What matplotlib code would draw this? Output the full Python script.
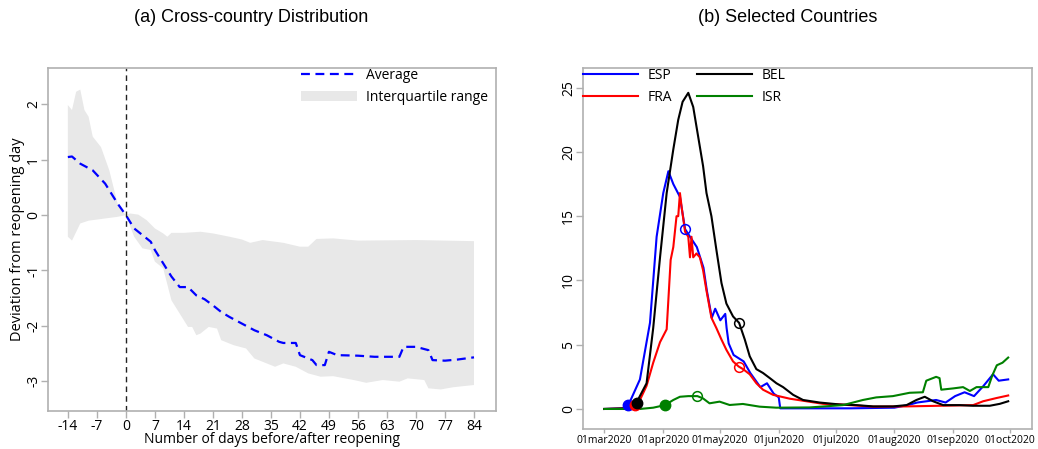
import numpy as np
import matplotlib
matplotlib.use("Agg")
import matplotlib.pyplot as plt
from matplotlib.patches import Patch
from matplotlib.lines import Line2D

# ---- panel (a): cross-country distribution ----
avg_days = [-14, -13, -11, -8, -5, -3, -2, 0, 2, 4, 6, 7, 9, 11, 13, 15, 17, 19, 21, 23, 25,
            28, 31, 34, 37, 38, 41, 42, 45, 46, 48, 49, 51, 56, 60, 66, 67, 70, 73, 74, 77, 80, 84]
avg_vals = [1.05, 1.06, 0.93, 0.81, 0.57, 0.33, 0.21, 0.0, -0.24, -0.36, -0.48, -0.63, -0.87,
            -1.11, -1.30, -1.30, -1.45, -1.52, -1.63, -1.75, -1.84, -1.96, -2.08, -2.17, -2.29,
            -2.31, -2.31, -2.53, -2.62, -2.71, -2.71, -2.47, -2.53, -2.54, -2.56, -2.56, -2.38,
            -2.38, -2.44, -2.62, -2.63, -2.61, -2.57]

iqr_hi_days = [-14, -13, -12, -11, -10, -9, -8, -6, -4, -3, -2, -1, 0, 1, 3, 5, 7, 9, 10, 11,
               14, 18, 21, 25, 28, 30, 33, 38, 42, 44, 46, 50, 56, 70, 84]
iqr_hi_vals = [1.99, 1.90, 2.23, 2.27, 1.90, 1.78, 1.42, 1.23, 0.81, 0.51, 0.21, 0.09, 0.0,
               0.03, 0.01, -0.09, -0.24, -0.33, -0.39, -0.32, -0.32, -0.30, -0.33, -0.39,
               -0.44, -0.50, -0.45, -0.50, -0.57, -0.57, -0.43, -0.42, -0.46, -0.45, -0.47]

iqr_lo_days = [-14, -13, -11, -9, -5, -2, 0, 2, 4, 6, 7, 9, 11, 13, 15, 16, 17, 18, 20, 22, 23,
               26, 29, 31, 34, 36, 38, 41, 44, 47, 50, 55, 58, 62, 66, 68, 72, 73, 76, 79, 84]
iqr_lo_vals = [-0.39, -0.46, -0.15, -0.10, -0.06, -0.03, 0.0, -0.39, -0.60, -0.63, -0.84, -0.96,
               -1.54, -1.78, -2.02, -2.02, -2.17, -2.14, -2.02, -2.05, -2.26, -2.35, -2.41,
               -2.59, -2.68, -2.74, -2.68, -2.74, -2.86, -2.92, -2.91, -2.98, -3.03, -2.98,
               -3.01, -2.95, -2.98, -3.13, -3.15, -3.11, -3.07]

day_ticks = list(range(-14, 85, 7))

# ---- panel (b): selected countries (days since 01mar2020) ----
esp_t = [0, 10, 12.7, 18.8, 24.1, 27.6, 31.1, 33.8, 36.4, 39.9, 42.6, 45.2, 48.8, 52.3, 54.1,
         56.7, 58.5, 61.2, 63.8, 64.5, 65.6, 68.2, 73.5, 77, 82.3, 85.8, 89.3, 92, 92.8, 110,
         130, 153, 160, 165, 175, 180, 185, 190, 195, 200, 205, 208, 213]
esp_v = [0, 0.05, 0.3, 2.3, 6.7, 13.4, 16.8, 18.5, 17.5, 16.5, 14.0, 13.4, 12.6, 11.0, 9.2,
         7.1, 7.8, 6.9, 7.4, 6.3, 5.1, 4.2, 3.7, 2.8, 1.7, 2.0, 1.2, 0.9, 0.05, 0.05,
         0.05, 0.1, 0.3, 0.5, 0.7, 0.5, 1.0, 1.3, 1.0, 1.8, 2.7, 2.2, 2.3]

bel_t = [0, 14, 17, 22.3, 25.8, 29.4, 32.9, 36.4, 39, 41.3, 44.3, 46.9, 49.5, 52.1, 53.9, 56.5,
         59.1, 61.8, 64.4, 67.9, 71.1, 74.1, 76.7, 80.2, 83.7, 87.3, 90.8, 94.3, 99.6, 104.8,
         113.6, 124.2, 133, 141.8, 152.3, 159.4, 164.6, 169, 173.4, 178.7, 187.5, 194.5,
         203.3, 208.6, 213]
bel_v = [0, 0.05, 0.5, 2.0, 6.3, 11.8, 16.8, 20.2, 22.5, 23.9, 24.6, 23.5, 21.2, 18.9, 16.8,
         15.0, 12.4, 9.8, 8.2, 7.2, 6.7, 5.4, 4.1, 3.1, 2.8, 2.4, 2.0, 1.7, 1.1, 0.7,
         0.5, 0.35, 0.3, 0.2, 0.2, 0.3, 0.7, 0.95, 0.6, 0.3, 0.3, 0.25, 0.25, 0.4, 0.6]

fra_t = [0, 14, 16.1, 18.8, 22.3, 25.8, 29.4, 32.9, 33.8, 35, 36.4, 38.1, 39, 39.9, 40.8, 42.6,
         44.3, 45.2, 46, 46.9, 48.6, 50.4, 52.1, 53.9, 56.5, 59.1, 61.8, 64.4, 67.9, 70.9,
         73.2, 76.7, 80.2, 83.7, 89, 97.8, 106.6, 115.4, 124.2, 141.8, 159.4, 177, 194.5,
         199.8, 206.8, 213]
fra_v = [0, 0.05, 0.3, 0.7, 1.8, 3.6, 5.2, 6.2, 8.5, 11.6, 12.6, 15.0, 15.0, 16.8, 15.7, 13.8,
         13.4, 11.8, 13.4, 11.8, 12.1, 11.8, 10.8, 9.2, 7.1, 6.3, 5.4, 4.6, 3.7, 3.3,
         3.1, 2.7, 2.0, 1.5, 1.1, 0.8, 0.6, 0.4, 0.35, 0.18, 0.2, 0.25, 0.3,
         0.6, 0.85, 1.05]

isr_t = [0, 18.8, 25.8, 32, 36.4, 39.9, 44.3, 49.1, 52, 55.5, 60.8, 66.1, 73.1, 81.9, 90.7,
         108.3, 125.9, 136.4, 143.4, 152.2, 161, 168, 169.8, 175, 176.8, 177.7, 184, 189.2,
         192.8, 196.3, 202.5, 204.6, 207, 210, 213]
isr_v = [0, 0.0, 0.1, 0.3, 0.7, 0.95, 1.0, 1.0, 0.83, 0.44, 0.57, 0.31, 0.39, 0.18, 0.1,
         0.12, 0.3, 0.7, 0.9, 1.0, 1.26, 1.3, 2.2, 2.5, 2.4, 1.5, 1.6, 1.7,
         1.4, 1.7, 1.7, 2.6, 3.4, 3.6, 4.0]

# markers: (day, value) for filled start point and hollow reopening point
esp_marks = [(12.7, 0.3), (42.6, 14.0)]
fra_marks = [(16.1, 0.3), (70.9, 3.3)]
bel_marks = [(17.0, 0.5), (71.1, 6.7)]
isr_marks = [(32.0, 0.3), (49.1, 1.0)]

month_pos = [0, 31, 61, 92, 122, 153, 184, 214]
month_lbl = ["01mar2020", "01apr2020", "01may2020", "01jun2020",
             "01jul2020", "01aug2020", "01sep2020", "01oct2020"]

plt.rcParams["font.family"] = ["Open Sans", "DejaVu Sans"]
frame_col = "#b0b0b0"


def r_style(ax):
    for s in ax.spines.values():
        s.set_color(frame_col)
        s.set_linewidth(1.2)
    ax.tick_params(color=frame_col, length=5, width=1.0, direction="out", pad=1)
    ax.tick_params(axis="y", pad=0)


fig = plt.figure(figsize=(10.38, 4.49), dpi=100)

# panel (a)
ax1 = fig.add_axes([0.0462, 0.0846, 0.4316, 0.764])
r_style(ax1)
poly_x = np.concatenate([iqr_hi_days, iqr_lo_days[::-1]])
poly_y = np.concatenate([iqr_hi_vals, iqr_lo_vals[::-1]])
ax1.fill(poly_x, poly_y, color="#e8e8e8", lw=0)
ax1.plot(avg_days, avg_vals, color="blue", ls=(0, (4, 2.5)), lw=1.6)
ax1.axvline(0, color="#222222", ls=(0, (4, 3)), lw=1.0)
ax1.set_xlim(-18.8, 89.3)
ax1.set_ylim(-3.54, 2.66)
ax1.set_xticks(day_ticks)
ax1.set_xticklabels([str(d) for d in day_ticks], fontsize=10)
ax1.set_yticks([-3, -2, -1, 0, 1, 2])
ax1.set_yticklabels(["-3", "-2", "-1", "0", "1", "2"], fontsize=10, rotation=90, va="center")
ax1.set_xlabel("Number of days before/after reopening", fontsize=10, labelpad=-1.5)
ax1.set_ylabel("Deviation from reopening day", fontsize=10.5, labelpad=1)
handles = [Line2D([], [], color="blue", ls=(0, (4, 2.5)), lw=1.6),
           Patch(facecolor="#e8e8e8", edgecolor="none")]
ax1.legend(handles, ["Average", "Interquartile range"], loc="upper right", frameon=False,
           fontsize=10, handlelength=4.0, handletextpad=0.65, borderpad=0.0,
           borderaxespad=0.0, labelspacing=0.5, bbox_to_anchor=(0.982, 1.0))
fig.text(0.242, 0.96, "(a) Cross-country Distribution", ha="center", va="center",
         fontsize=13, family="Liberation Sans")

# panel (b)
ax2 = fig.add_axes([0.5617, 0.0445, 0.4326, 0.804])
r_style(ax2)
series = [("ESP", esp_t, esp_v, esp_marks, "blue"),
          ("FRA", fra_t, fra_v, fra_marks, "red"),
          ("BEL", bel_t, bel_v, bel_marks, "black"),
          ("ISR", isr_t, isr_v, isr_marks, "green")]
for name, t, v, marks, col in series:
    ax2.plot(t, v, color=col, lw=1.5, label=name)
for name, t, v, marks, col in series:
    ax2.plot(marks[0][0], marks[0][1], "o", color=col, ms=7.5, zorder=5)
    ax2.plot(marks[1][0], marks[1][1], "o", mfc="none", mec=col, ms=7, mew=1.1, zorder=5)
ax2.set_xlim(-11.2, 225.6)
ax2.set_ylim(-1.56, 26.53)
ax2.set_xticks(month_pos)
ax2.set_xticklabels(month_lbl, fontsize=7.5)
ax2.tick_params(axis="x", length=3, pad=1)
ax2.set_yticks([0, 5, 10, 15, 20, 25])
ax2.set_yticklabels(["0", "5", "10", "15", "20", "25"], fontsize=10, rotation=90, va="center")
ax2.legend(loc="upper left", ncol=2, frameon=False, fontsize=10, handlelength=3.95,
           borderpad=0.0, borderaxespad=0.0, labelspacing=0.5, columnspacing=1.8,
           handletextpad=0.7, bbox_to_anchor=(0.0, 1.0))
fig.text(0.759, 0.96, "(b) Selected Countries", ha="center", va="center",
         fontsize=13, family="Liberation Sans")

fig.savefig("out.png", dpi=100)
